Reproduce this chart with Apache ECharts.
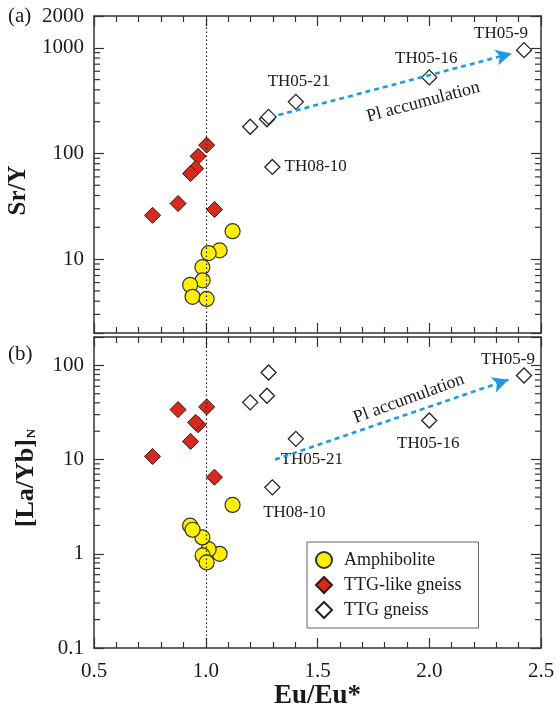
<!DOCTYPE html>
<html>
<head>
<meta charset="utf-8">
<script src="https://cdn.jsdelivr.net/npm/echarts@6/dist/echarts.min.js"></script>
<style>
html,body{margin:0;padding:0;background:#fff;}
#chart{width:558px;height:712px;}
</style>
</head>
<body>
<div id="chart"></div>
<script>
// ---------- data ----------
const seriesNames = ['Amphibolite', 'TTG-like gneiss', 'TTG gneiss'];

// Amphibolite
const amphEu   = [1.120, 1.062, 1.013, 0.985, 0.986, 0.930, 0.941, 1.004];
const amphSrY  = [18.4, 12.1, 11.4, 8.4, 6.3, 5.7, 4.4, 4.2];
const amphLaYb = [3.3, 1.0, 1.12, 1.49, 0.96, 1.99, 1.80, 0.81];

// TTG-like gneiss
const ttgLikeEu   = [1.004, 0.966, 0.955, 0.932, 0.876, 0.762, 1.039];
const ttgLikeSrY  = [120, 94, 72, 64.6, 33.6, 26, 29.5];
const ttgLikeLaYb = [36.2, 23.4, 24.8, 15.6, 33.9, 10.8, 6.5];

// TTG gneiss
const ttgEu    = [1.199, 1.274, 1.281, 1.403, 1.298, 2.000, 2.424];
const ttgSrY   = [179, 211, 222, 308, 74.6, 525, 950];
const ttgLaYb  = [40.5, 47.6, 84, 16.6, 5.07, 26, 78];
const ttgNames = ['', '', '', 'TH05-21', 'TH08-10', 'TH05-16', 'TH05-9'];

// Pl accumulation arrows [start, end] as [Eu/Eu*, value]
const arrowSrY  = [[1.325, 231], [2.369, 885]];
const arrowLaYb = [[1.310, 10.0], [2.354, 70.5]];
const arrowText = 'Pl accumulation';
const arrowTextSrY  = [1.973, 307];
const arrowTextLaYb = [1.909, 44.4];

// reference line Eu/Eu* = 1
const refEu = 1.0;

// axis ranges & ticks
const xRange = [0.5, 2.5];
const xInterval = 0.5;
const srYRange = [2, 2000];
const laYbRange = [0.1, 200];
const srYMinorTicks  = [3, 4, 5, 6, 7, 8, 9, 20, 30, 40, 50, 60, 70, 80, 90, 200, 300, 400, 500, 600, 700, 800, 900];
const laYbMinorTicks = [0.2, 0.3, 0.4, 0.5, 0.6, 0.7, 0.8, 0.9, 2, 3, 4, 5, 6, 7, 8, 9, 20, 30, 40, 50, 60, 70, 80, 90];

// ---------- styles ----------
const FONT = "'Liberation Serif', 'Times New Roman', serif";
const AX = '#333';
const TXT = '#1a1a1a';
const labelStyleTop = {
  'TH05-21': {position: 'inside', offset: [3, -20]},
  'TH05-16': {position: 'inside', offset: [-3, -19]},
  'TH05-9':  {position: 'inside', offset: [-23, -17]},
  'TH08-10': {position: 'right', distance: 4}
};
const labelStyleBot = {
  'TH05-21': {position: 'inside', offset: [16, 21]},
  'TH05-16': {position: 'inside', offset: [-1, 23]},
  'TH05-9':  {position: 'inside', offset: [-16, -16]},
  'TH08-10': {position: 'inside', offset: [22, 25]}
};

const amphStyle = {symbol: 'circle', symbolSize: 15,
  itemStyle: {color: '#FFF000', borderColor: '#333', borderWidth: 1.2, opacity: 1}};
const redStyle = {symbol: 'diamond', symbolSize: 16,
  itemStyle: {color: '#D42A1F', borderColor: '#3b1410', borderWidth: 1, opacity: 1}};
const ttgStyle = {symbol: 'diamond', symbolSize: 15,
  itemStyle: {color: '#ffffff', borderColor: '#222', borderWidth: 1.3, opacity: 1}};

function pairs(xs, ys) { return xs.map((x, i) => [x, ys[i]]); }

function ttgData(ys, styleMap) {
  return ttgEu.map((x, i) => {
    const name = ttgNames[i];
    const item = {value: [x, ys[i]]};
    if (name) {
      item.label = Object.assign({show: true, formatter: name, fontFamily: FONT,
        fontSize: 17, color: TXT, textBorderWidth: 0}, styleMap[name]);
    }
    return item;
  });
}

function xAxisDef(gridIndex, position, showLabel) {
  return {
    type: 'value', gridIndex, position, min: xRange[0], max: xRange[1], interval: xInterval,
    axisLine: {show: true, onZero: false, lineStyle: {color: AX, width: 1.5}},
    axisTick: {show: true, inside: true, length: 10, lineStyle: {color: AX, width: 1.2}},
    minorTick: {show: true, splitNumber: 5, length: 6, lineStyle: {color: AX, width: 1.2}},
    splitLine: {show: false},
    axisLabel: {show: showLabel, margin: 13, fontFamily: FONT, fontSize: 21, color: TXT,
      formatter: v => v.toFixed(1)},
    name: showLabel ? 'Eu/Eu*' : '', nameLocation: 'middle', nameGap: 34,
    nameTextStyle: {fontFamily: FONT, fontSize: 27, fontWeight: 'bold', color: TXT}
  };
}

function yAxisDef(gridIndex, position, range, showLabel, hideVal, name, nameOpts) {
  return Object.assign({
    type: 'log', logBase: 10, gridIndex, position, min: range[0], max: range[1],
    axisLine: {show: true, onZero: false, lineStyle: {color: AX, width: 1.5}},
    axisTick: {show: true, inside: true, length: 10, lineStyle: {color: AX, width: 1.2}},
    minorTick: {show: false},
    splitLine: {show: false},
    axisLabel: {show: showLabel, margin: 10, fontFamily: FONT, fontSize: 21, color: TXT,
      formatter: v => {
        const n = Number(v.toPrecision(4));
        if (Math.abs(n - hideVal) < 1e-9) return '';
        return String(n);
      }},
    name: name || '', nameLocation: 'middle'
  }, nameOpts || {});
}

function minorTickSeries(xi, yi, ticks) {
  return {
    type: 'custom', xAxisIndex: xi, yAxisIndex: yi, silent: true, clip: false, z: 1,
    data: ticks.map(v => [xRange[0], v]),
    renderItem: (params, api) => {
      const v = api.value(1);
      const pL = api.coord([xRange[0], v]);
      const pR = api.coord([xRange[1], v]);
      return {type: 'group', children: [
        {type: 'line', shape: {x1: pL[0], y1: pL[1], x2: pL[0] + 6, y2: pL[1]},
          style: {stroke: AX, lineWidth: 1.2}},
        {type: 'line', shape: {x1: pR[0] - 6, y1: pR[1], x2: pR[0], y2: pR[1]},
          style: {stroke: AX, lineWidth: 1.2}}
      ]};
    }
  };
}

function refLine() {
  return {silent: true, symbol: ['none', 'none'], animation: false,
    label: {show: false},
    lineStyle: {type: [1.5, 2.5], color: '#222', width: 1.2},
    data: [{xAxis: refEu}]};
}

function arrowLine(arr) {
  return {silent: true, symbol: ['none', 'arrow'], symbolSize: [12, 16], animation: false,
    label: {show: false},
    lineStyle: {type: [5, 4], color: '#1E9BE0', width: 2.6},
    itemStyle: {color: '#1E9BE0'},
    data: [[{coord: arr[0]}, {coord: arr[1]}]]};
}

function annot(xi, yi, pos, rot) {
  return {type: 'scatter', name: 'annot', xAxisIndex: xi, yAxisIndex: yi, silent: true,
    symbol: 'circle', symbolSize: 1, itemStyle: {color: '#ffffff', opacity: 1}, z: 5,
    data: [{value: pos, label: {show: true, position: 'inside', formatter: arrowText,
      rotate: rot, fontFamily: FONT, fontSize: 18, color: '#1a1a1a', opacity: 1,
      textBorderWidth: 0, textBorderColor: 'transparent'}}]};
}

const option = {
  animation: false,
  backgroundColor: '#fff',
  textStyle: {fontFamily: FONT},
  grid: [
    {left: 94, top: 16, width: 447, height: 317, containLabel: false, outerBoundsMode: 'none'},
    {left: 94, top: 337, width: 447, height: 311, containLabel: false, outerBoundsMode: 'none'}
  ],
  xAxis: [
    xAxisDef(0, 'bottom', false),
    xAxisDef(0, 'top', false),
    xAxisDef(1, 'bottom', true),
    xAxisDef(1, 'top', false)
  ],
  yAxis: [
    yAxisDef(0, 'left', srYRange, true, 2, 'Sr/Y', {
      nameGap: 52, nameRotate: 90,
      nameTextStyle: {fontFamily: FONT, fontSize: 25, fontWeight: 'bold', color: TXT,
        padding: [0, 32, 0, 0]}}),
    yAxisDef(0, 'right', srYRange, false, -1),
    yAxisDef(1, 'left', laYbRange, true, 200, '{a|[La/Yb]}{b|N}', {
      nameGap: 55, nameRotate: 90,
      nameTextStyle: {fontFamily: FONT, color: TXT, padding: [0, 0, 0, 29],
        rich: {
          a: {fontFamily: FONT, fontSize: 26, fontWeight: 'bold', color: TXT},
          b: {fontFamily: FONT, fontSize: 13, fontWeight: 'bold', color: TXT, padding: [12, 0, 0, 1]}
        }}}),
    yAxisDef(1, 'right', laYbRange, false, -1)
  ],
  legend: {
    data: seriesNames,
    orient: 'vertical', left: 307, top: 542,
    padding: [9, 17, 9, 8], itemGap: 7, itemWidth: 16, itemHeight: 16,
    backgroundColor: '#fff', borderColor: '#666', borderWidth: 1, borderRadius: 0,
    textStyle: {fontFamily: FONT, fontSize: 18, color: TXT, padding: [0, 0, 0, 7]}
  },
  graphic: [
    {type: 'text', left: 8, top: 6, style: {text: '(a)', font: "21px " + FONT, fill: TXT}},
    {type: 'text', left: 8, top: 344, style: {text: '(b)', font: "21px " + FONT, fill: TXT}}
  ],
  series: [
    minorTickSeries(0, 0, srYMinorTicks),
    minorTickSeries(2, 2, laYbMinorTicks),
    // panel (a)
    Object.assign({type: 'scatter', name: seriesNames[0], xAxisIndex: 0, yAxisIndex: 0, z: 3,
      data: pairs(amphEu, amphSrY), markLine: refLine()}, amphStyle),
    Object.assign({type: 'scatter', name: seriesNames[1], xAxisIndex: 0, yAxisIndex: 0, z: 3,
      data: pairs(ttgLikeEu, ttgLikeSrY)}, redStyle),
    Object.assign({type: 'scatter', name: seriesNames[2], xAxisIndex: 0, yAxisIndex: 0, z: 4,
      data: ttgData(ttgSrY, labelStyleTop), markLine: arrowLine(arrowSrY)}, ttgStyle),
    annot(0, 0, arrowTextSrY, 15),
    // panel (b)
    Object.assign({type: 'scatter', name: seriesNames[0], xAxisIndex: 2, yAxisIndex: 2, z: 3,
      data: pairs(amphEu, amphLaYb), markLine: refLine()}, amphStyle),
    Object.assign({type: 'scatter', name: seriesNames[1], xAxisIndex: 2, yAxisIndex: 2, z: 3,
      data: pairs(ttgLikeEu, ttgLikeLaYb)}, redStyle),
    Object.assign({type: 'scatter', name: seriesNames[2], xAxisIndex: 2, yAxisIndex: 2, z: 4,
      data: ttgData(ttgLaYb, labelStyleBot), markLine: arrowLine(arrowLaYb)}, ttgStyle),
    annot(2, 2, arrowTextLaYb, 20)
  ]
};

const chart = echarts.init(document.getElementById('chart'), null, {renderer: 'canvas'});
chart.setOption(option);
</script>
</body>
</html>
